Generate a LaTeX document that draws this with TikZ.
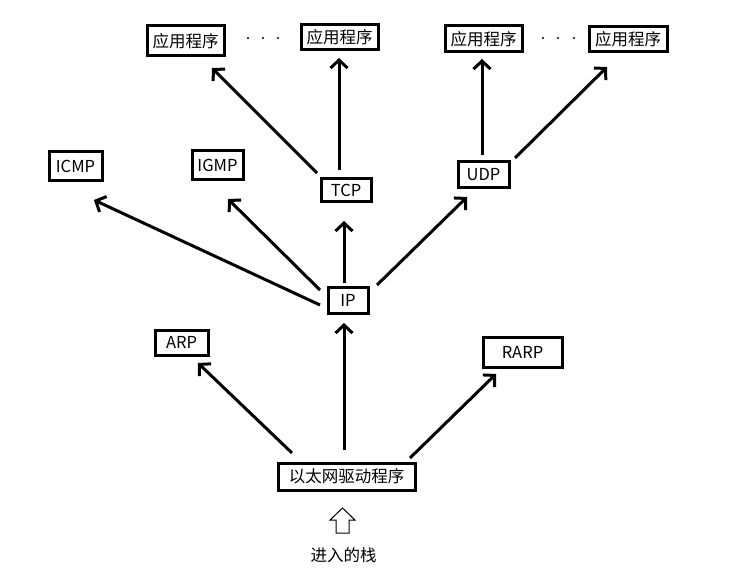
\documentclass[tikz,border=0pt]{standalone}
\usepackage{fontspec}
\setmainfont{Noto Sans CJK SC}
\usetikzlibrary{arrows.meta}
\begin{document}
\begin{tikzpicture}[x=1pt,y=-1pt,
  box/.style={draw, line width=3pt, inner sep=0pt, font=\fontsize{16.5}{19}\selectfont},
  arr/.style={line width=3pt, -{Straight Barb[length=8pt,width=17pt,line width=3pt]}}]
\useasboundingbox (0,0) rectangle (737,583);
% boxes
\node[box, minimum width=77pt, minimum height=30pt] (app1) at (185.5,41) {应用程序};
\node[box, minimum width=77pt, minimum height=25pt] (app2) at (339.5,37.5) {应用程序};
\node[box, minimum width=77pt, minimum height=26pt] (app3) at (483.5,39) {应用程序};
\node[box, minimum width=78pt, minimum height=25pt] (app4) at (628,39.5) {应用程序};
\node[box, minimum width=53pt, minimum height=29pt] (icmp) at (75.5,166.5) {ICMP};
\node[box, minimum width=51pt, minimum height=29pt] (igmp) at (217.5,165.5) {IGMP};
\node[box, minimum width=50pt, minimum height=23pt] (tcp) at (346,190.5) {TCP};
\node[box, minimum width=51pt, minimum height=26pt] (udp) at (483.5,175) {UDP};
\node[box, minimum width=40pt, minimum height=26pt] (ip) at (348,300) {IP};
\node[box, minimum width=53pt, minimum height=25pt] (arp) at (181.5,342.5) {ARP};
\node[box, minimum width=79pt, minimum height=30pt] (rarp) at (522.5,352) {RARP};
\node[box, minimum width=137pt, minimum height=27pt] (eth) at (346.5,476.5) {以太网驱动程序};
\node[font=\fontsize{16.5}{19}\selectfont] (stack) at (343.5,555) {进入的栈};
% dots
\fill (248,38) circle[radius=1.2pt] (263,38) circle[radius=1.2pt] (278,38) circle[radius=1.2pt];
\fill (543,38) circle[radius=1.2pt] (558,38) circle[radius=1.2pt] (574,38) circle[radius=1.2pt];
% arrow end coordinates
\coordinate (eA1) at (292,453); \coordinate (eA2) at (198,363);
\coordinate (eI1) at (344,450); \coordinate (eI2) at (344,323);
\coordinate (eR1) at (410,458); \coordinate (eR2) at (496,374);
\coordinate (iC1) at (320,305); \coordinate (iC2) at (94,200);
\coordinate (iG1) at (320,290); \coordinate (iG2) at (228,199);
\coordinate (iT1) at (344,283); \coordinate (iT2) at (344,221);
\coordinate (iU1) at (377,285); \coordinate (iU2) at (467,197);
\coordinate (t11) at (317,173); \coordinate (t12) at (212,68);
\coordinate (t21) at (339,170); \coordinate (t22) at (339,58);
\coordinate (u31) at (482,155); \coordinate (u32) at (482,59);
\coordinate (u41) at (515,158); \coordinate (u42) at (607,67);
% arrows
\draw[arr] (eA1) -- (eA2);
\draw[arr] (eI1) -- (eI2);
\draw[arr] (eR1) -- (eR2);
\draw[arr] (iC1) -- (iC2);
\draw[arr] (iG1) -- (iG2);
\draw[arr] (iT1) -- (iT2);
\draw[arr] (iU1) -- (iU2);
\draw[arr] (t11) -- (t12);
\draw[arr] (t21) -- (t22);
\draw[arr] (u31) -- (u32);
\draw[arr] (u41) -- (u42);
% hollow up arrow
\draw[line width=1pt, line join=miter] (342.5,508) -- (355,520) -- (349,520) -- (349,533) -- (336,533) -- (336,520) -- (330,520) -- cycle;
\end{tikzpicture}
\end{document}
